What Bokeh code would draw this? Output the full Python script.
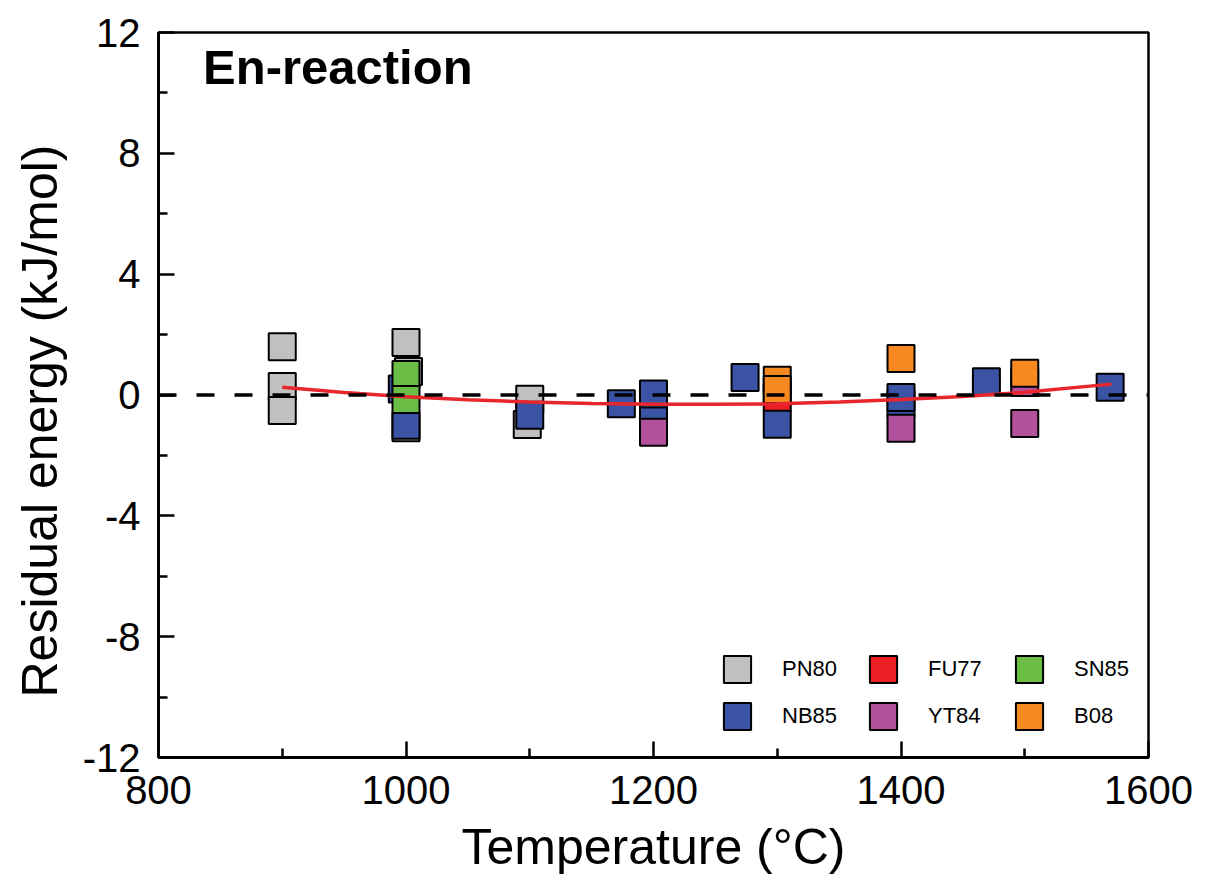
from bokeh.plotting import figure
from bokeh.models import Range1d, FixedTicker, Span, Legend, LegendItem, Label, Title
from bokeh.embed import file_html
from bokeh.resources import INLINE

FONT = "Liberation Sans"

# ---- data ----
pn80_t = [900, 900, 900, 1000, 1002, 1000, 1100, 1098]
pn80_r = [1.60, 0.28, -0.51, 1.74, 0.78, -1.08, -0.14, -0.98]

fu77_t = [1300]
fu77_r = [-0.10]

nb85_t = [997, 1000, 1100, 1174, 1200, 1200, 1274, 1300, 1400, 1400, 1469, 1569]
nb85_r = [0.20, -1.00, -0.67, -0.29, -0.40, 0.03, 0.58, -0.97, -0.28, -0.08, 0.44, 0.26]

yt84_t = [1200, 1400, 1500, 1500]
yt84_r = [-1.23, -1.10, 0.41, -0.94]

sn85_t = [1000, 1000]
sn85_r = [0.68, -0.15]

b08_t = [1300, 1300, 1400, 1500]
b08_r = [0.49, 0.18, 1.21, 0.72]

fit_t = [900, 950, 1000, 1050, 1100, 1150, 1200, 1250, 1300, 1350, 1400, 1450, 1500, 1570]
fit_r = [0.26, 0.08, -0.06, -0.16, -0.23, -0.28, -0.31, -0.31, -0.29, -0.23, -0.15, -0.05, 0.09, 0.36]

x_ticks = [800, 1000, 1200, 1400, 1600]
x_minor = [900, 1100, 1300, 1500]
y_ticks = [-12, -8, -4, 0, 4, 8, 12]
y_minor = [-10, -6, -2, 2, 6, 10]
y_tick_labels = {-12: "-12", -8: "-8", -4: "-4", 0: "0", 4: "4", 8: "8", 12: "12"}

series = [
    ("PN80", pn80_t, pn80_r, "#c0c0c0"),
    ("FU77", fu77_t, fu77_r, "#ed1f24"),
    ("NB85", nb85_t, nb85_r, "#3a53a4"),
    ("YT84", yt84_t, yt84_r, "#b4519c"),
    ("SN85", sn85_t, sn85_r, "#6bbd45"),
    ("B08", b08_t, b08_r, "#f6891f"),
]
legend_order = ["PN80", "NB85", "FU77", "YT84", "SN85", "B08"]

W, H = 1200, 888
p = figure(width=W, height=H, output_backend="svg", toolbar_location=None,
           x_range=Range1d(800, 1600), y_range=Range1d(-12, 12),
           min_border_left=158, min_border_right=W - 1148, min_border_top=32,
           min_border_bottom=H - 757)
p.grid.visible = False
p.outline_line_color = "black"
p.outline_line_width = 2.5
p.background_fill_color = "white"
p.border_fill_color = "white"

for ax, ticks, minor in ((p.xaxis[0], x_ticks, x_minor), (p.yaxis[0], y_ticks, y_minor)):
    ax.ticker = FixedTicker(ticks=ticks, minor_ticks=minor)
    ax.axis_line_width = 3
    ax.axis_line_color = "black"
    ax.major_tick_in = 16
    ax.major_tick_out = 0
    ax.minor_tick_in = 9
    ax.minor_tick_out = 0
    ax.major_tick_line_width = 2.5
    ax.minor_tick_line_width = 2.5
    ax.major_tick_line_color = "black"
    ax.minor_tick_line_color = "black"
    ax.major_label_text_font = FONT
    ax.major_label_text_font_size = "40px"
    ax.major_label_text_color = "black"
    ax.major_label_standoff = 18
    ax.axis_label_text_font = FONT
    ax.axis_label_text_font_size = "50px"
    ax.axis_label_text_font_style = "normal"
    ax.axis_label_text_color = "black"

p.yaxis.major_label_overrides = y_tick_labels
p.xaxis.axis_label = "Temperature (°C)"
p.xaxis.axis_label_standoff = 12

# y-axis title, sitting a little below the frame centre as in the original
p.add_layout(Title(text="Residual energy (kJ/mol)", align="left", offset=60,
                   vertical_align="top",
                   text_font=FONT, text_font_size="50px", text_font_style="normal",
                   text_color="black", standoff=20), "left")

renderers = {}
for name, t, r, col in series:
    rr = p.rect(x=t, y=r, width=27, height=27, width_units="screen", height_units="screen",
                fill_color=col, line_color="black", line_width=2)
    renderers[name] = rr

p.line(fit_t, fit_r, line_color="#e8262b", line_width=3.5)

p.add_layout(Span(location=0, dimension="width", line_color="black",
                  line_width=3.5, line_dash="18 20"))

p.add_layout(Label(x=836, y=10.86, text="En-reaction", text_font=FONT,
                   text_font_size="49px", text_font_style="bold",
                   text_baseline="middle", text_color="black"))

legend = Legend(items=[LegendItem(label=n, renderers=[renderers[n]]) for n in legend_order],
                location=(562, 24), orientation="vertical", nrows=2,
                glyph_width=34, glyph_height=34, label_height=34, label_width=71,
                label_standoff=28, spacing=13, padding=0, margin=0,
                border_line_color=None, background_fill_alpha=0,
                label_text_font=FONT, label_text_font_size="22px",
                label_text_color="black")
p.add_layout(legend)

open("out.html", "w").write(file_html(p, INLINE))
